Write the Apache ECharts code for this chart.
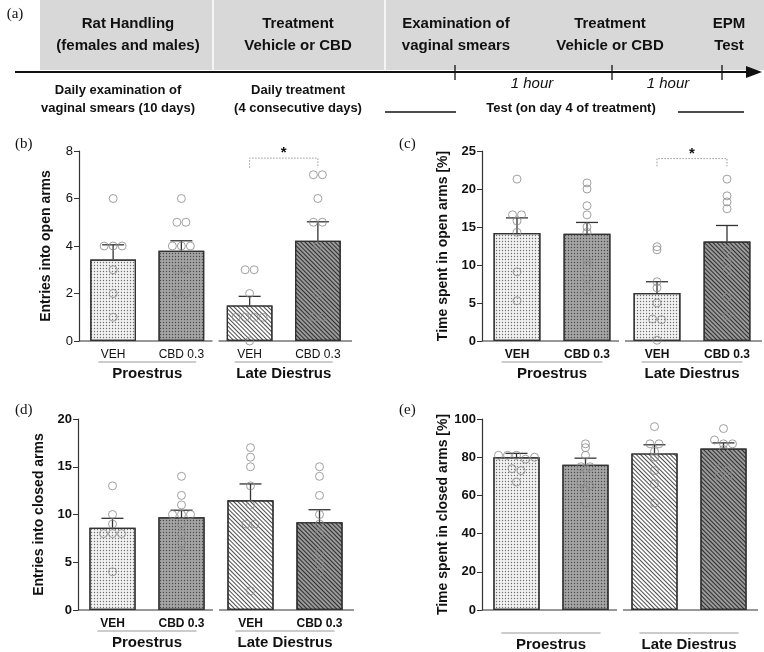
<!DOCTYPE html>
<html><head><meta charset="utf-8">
<script src="https://cdn.jsdelivr.net/npm/echarts@6/dist/echarts.min.js"></script>
<style>html,body{margin:0;padding:0;background:#fff}#c{width:764px;height:652px}</style>
</head><body><div id="c"></div>
<script>
const groups = ['VEH','CBD 0.3','VEH','CBD 0.3'];
const phases = ['Proestrus','Late Diestrus'];
// panel b: entries into open arms
const bPoints = [[6,4,4,4,3,2,1],[6,5,5,4,4,4,3,3,2,2],[3,3,2,1,1,1,1,0],[7,7,6,5,5,4,2,1,1]];
const bMean = [3.43,3.8,1.5,4.22]; const bSem = [0.62,0.42,0.38,0.8];
// panel c: time in open arms [%]
const cPoints = [[21.3,16.6,16.6,15.8,14.3,9.1,5.3],[20.8,20,17.8,16.6,15,14.3,10.6,10,8.2,6.7],[12.4,12,7.8,7,5,2.9,2.8,0.1],[21.3,19.1,18.3,17.4,12,10.4,9.2,5.8,3.3]];
const cMean = [14.2,14.1,6.3,13.1]; const cSem = [2.0,1.5,1.5,2.1];
// panel d: entries into closed arms
const dPoints = [[13,10,9,8,8,8,4],[14,12,11,10,10,10,9,8,7,6],[17,16,15,13,11,9,9,2],[15,14,12,10,9,8,6,5,4]];
const dMean = [8.6,9.7,11.5,9.2]; const dSem = [1.0,0.75,1.7,1.3];
// panel e: time in closed arms [%]
const ePoints = [[81,81,81,79,80,74,73,67],[87,85,81,75,74,75,67,65,63,56],[96,87,87,83,80,73,66,56],[95,89,87,87,84,74,73,70,70]];
const eMean = [80,76,82,84.5]; const eSem = [2,3.5,4.5,3];

const FONT = 'Liberation Sans, Arial, sans-serif';
const dots = c => ({color:c, decal:{symbol:'circle', symbolSize:0.45, dashArrayX:[3,0], dashArrayY:[3,0], color:'rgba(0,0,0,0.55)'}});
const stripes = c => ({color:c, decal:{symbol:'rect', symbolSize:1, rotation:Math.PI/4, dashArrayX:[[1,0]], dashArrayY:[0.8,2], color:'rgba(0,0,0,0.7)'}});
const stylesStd = [dots('#f2f2f2'), dots('#a4a4a4'), stripes('#ffffff'), stripes('#9a9a9a')];
const stylesC = [dots('#f2f2f2'), dots('#a4a4a4'), dots('#f2f2f2'), stripes('#9a9a9a')];

const panels = [
  {pts:bPoints, mean:bMean, sem:bSem, max:8, step:2, title:'Entries into open arms', grid:{left:79,width:273,top:151,height:190}, styles:stylesStd, labels:true, boldLab:false, sig:[7.7,7.3]},
  {pts:cPoints, mean:cMean, sem:cSem, max:25, step:5, title:'Time spent in open arms [%]', grid:{left:482,width:280,top:151,height:190}, styles:stylesC, labels:true, boldLab:true, sig:[24,23]},
  {pts:dPoints, mean:dMean, sem:dSem, max:20, step:5, title:'Entries into closed arms', grid:{left:78,width:276,top:419,height:191}, styles:stylesStd, labels:true, boldLab:true},
  {pts:ePoints, mean:eMean, sem:eSem, max:100, step:20, title:'Time spent in closed arms [%]', grid:{left:482,width:276,top:419,height:191}, styles:stylesStd, labels:false, boldLab:true}
];

const grid=[], xAxis=[], yAxis=[], series=[];
panels.forEach((p,i)=>{
  grid.push(Object.assign({containLabel:false}, p.grid));
  xAxis.push({type:'category', gridIndex:i, data:groups, axisLine:{show:false}, axisTick:{show:false},
    axisLabel:{show:p.labels, color:'#111', fontFamily:FONT, fontSize:12, fontWeight:p.boldLab?'bold':'normal', margin:8}});
  yAxis.push({type:'value', gridIndex:i, min:0, max:p.max, interval:p.step, splitLine:{show:false},
    axisLine:{show:true, lineStyle:{color:'#333', width:1.2}}, axisTick:{show:true, length:5, lineStyle:{color:'#333'}},
    axisLabel:{color:'#111', fontFamily:FONT, fontSize:13, fontWeight:p.boldLab?'bold':'normal', margin:6},
    name:p.title, nameLocation:'middle', nameGap:p.max>=20?32:26, nameRotate:90,
    nameTextStyle:{color:'#111', fontFamily:FONT, fontSize:14, fontWeight:'bold'}});
  series.push({type:'bar', xAxisIndex:i, yAxisIndex:i, barWidth:'67%', silent:true,
    data:p.mean.map((v,k)=>({value:v, itemStyle:Object.assign({borderColor:'#333', borderWidth:1.2}, p.styles[k])}))});
  series.push({type:'custom', xAxisIndex:i, yAxisIndex:i, silent:true, z:5,
    data:p.mean.map((v,k)=>[k, v, v+p.sem[k]]),
    renderItem:(params, api)=>{
      const a = api.coord([api.value(0), api.value(1)]), b = api.coord([api.value(0), api.value(2)]);
      return {type:'group', children:[
        {type:'line', shape:{x1:a[0], y1:a[1], x2:b[0], y2:b[1]}, style:{stroke:'#333', lineWidth:1.3}},
        {type:'line', shape:{x1:b[0]-11, y1:b[1], x2:b[0]+11, y2:b[1]}, style:{stroke:'#333', lineWidth:1.3}}]};
    }});
  const sd=[], bin=p.max/26;
  p.pts.forEach((arr,k)=>{
    const key=v=>Math.round(v/bin);
    const counts={};
    arr.forEach(v=>counts[key(v)]=(counts[key(v)]||0)+1);
    const seen={};
    arr.forEach(v=>{const q=key(v); const n=counts[q]; const j=seen[q]=(seen[q]||0); seen[q]++;
      sd.push({value:[k,v], symbolOffset:[(j-(n-1)/2)*9,0]});});
  });
  series.push({type:'scatter', xAxisIndex:i, yAxisIndex:i, silent:true, z:6, symbol:'circle', symbolSize:8,
    itemStyle:{color:'rgba(255,255,255,0)', borderColor:'#888', borderWidth:1}, data:sd});
});

const chart = echarts.init(document.getElementById('c'));
chart.setOption({animation:false, grid, xAxis, yAxis, series});

const g=[];
const txt=(x,y,t,o={})=>g.push({type:'text', x, y, style:Object.assign({text:t, fill:'#111', font:(o.bold?'bold ':'')+(o.italic?'italic ':'')+(o.size||14)+'px '+FONT, align:o.align||'center', verticalAlign:'middle'}, o.style||{})});
const line=(x1,y1,x2,y2,st)=>g.push({type:'line', shape:{x1,y1,x2,y2}, style:Object.assign({stroke:'#111', lineWidth:1.3}, st||{})});
g.push({type:'rect', shape:{x:40,y:0,width:724,height:70}, style:{fill:'#d8d8d8'}});
line(213,0,213,70,{stroke:'#fff',lineWidth:1.5}); line(385,0,385,70,{stroke:'#fff',lineWidth:1.5});
line(15,72,748,72,{lineWidth:2.2});
g.push({type:'polygon', shape:{points:[[746,66],[762,72],[746,78]]}, style:{fill:'#111'}});
[455,612,722].forEach(x=>line(x,65,x,80));
txt(15,14,'(a)',{size:15,style:{font:'15px Liberation Serif, serif'}});
txt(128,24,'Rat Handling',{bold:true,size:15}); txt(128,46,'(females and males)',{bold:true,size:15});
txt(298,24,'Treatment',{bold:true,size:15}); txt(298,46,'Vehicle or CBD',{bold:true,size:15});
txt(456,24,'Examination of',{bold:true,size:15}); txt(456,46,'vaginal smears',{bold:true,size:15});
txt(610,24,'Treatment',{bold:true,size:15}); txt(610,46,'Vehicle or CBD',{bold:true,size:15});
txt(729,24,'EPM',{bold:true,size:15}); txt(729,46,'Test',{bold:true,size:15});
txt(118,90,'Daily examination of',{bold:true,size:13}); txt(118,108,'vaginal smears (10 days)',{bold:true,size:13});
txt(298,90,'Daily treatment',{bold:true,size:13}); txt(298,108,'(4 consecutive days)',{bold:true,size:13});
txt(532,84,'1 hour',{italic:true,size:15}); txt(668,84,'1 hour',{italic:true,size:15});
txt(571,108,'Test (on day 4 of treatment)',{bold:true,size:13});
line(385,112,456,112,{lineWidth:1.6}); line(678,112,744,112,{lineWidth:1.6});
[['(b)',15,144],['(c)',399,144],['(d)',15,410],['(e)',399,410]].forEach(a=>txt(a[1],a[2],a[0],{style:{font:'15px Liberation Serif, serif', align:'left'}}));
panels.forEach((p,i)=>{
  const px=(k,v)=>chart.convertToPixel({xAxisIndex:i,yAxisIndex:i},[k,v]);
  const y0=px(0,0)[1], gl=p.grid.left, gr=p.grid.left+p.grid.width;
  const mid=(px(1,0)[0]+px(2,0)[0])/2;
  line(gl,y0,mid-3,y0,{stroke:'#333',lineWidth:1.2}); line(mid+3,y0,gr,y0,{stroke:'#333',lineWidth:1.2});
  const bw=p.grid.width/4*0.67/2;
  const ly = p.labels ? y0+21 : y0+23, ty = p.labels ? y0+33 : y0+35;
  [[0,1],[2,3]].forEach((pr,j)=>{
    const xa=px(pr[0],0)[0]-bw+8, xb=px(pr[1],0)[0]+bw-8;
    line(xa,ly,xb,ly,{stroke:'#999',lineWidth:1});
    txt((xa+xb)/2,ty,phases[j],{bold:true,size:15});
  });
  if(p.sig){
    const a=px(2,p.sig[1]), b=px(2,p.sig[0]), c=px(3,p.sig[0]), d=px(3,p.sig[1]);
    g.push({type:'polyline', shape:{points:[a,b,c,d]}, style:{stroke:'#999',lineWidth:1,lineDash:[1.5,1.5],fill:null}});
    txt((b[0]+c[0])/2,b[1]-5,'*',{bold:true,size:15});
  }
});
chart.setOption({graphic:g});
</script></body></html>
